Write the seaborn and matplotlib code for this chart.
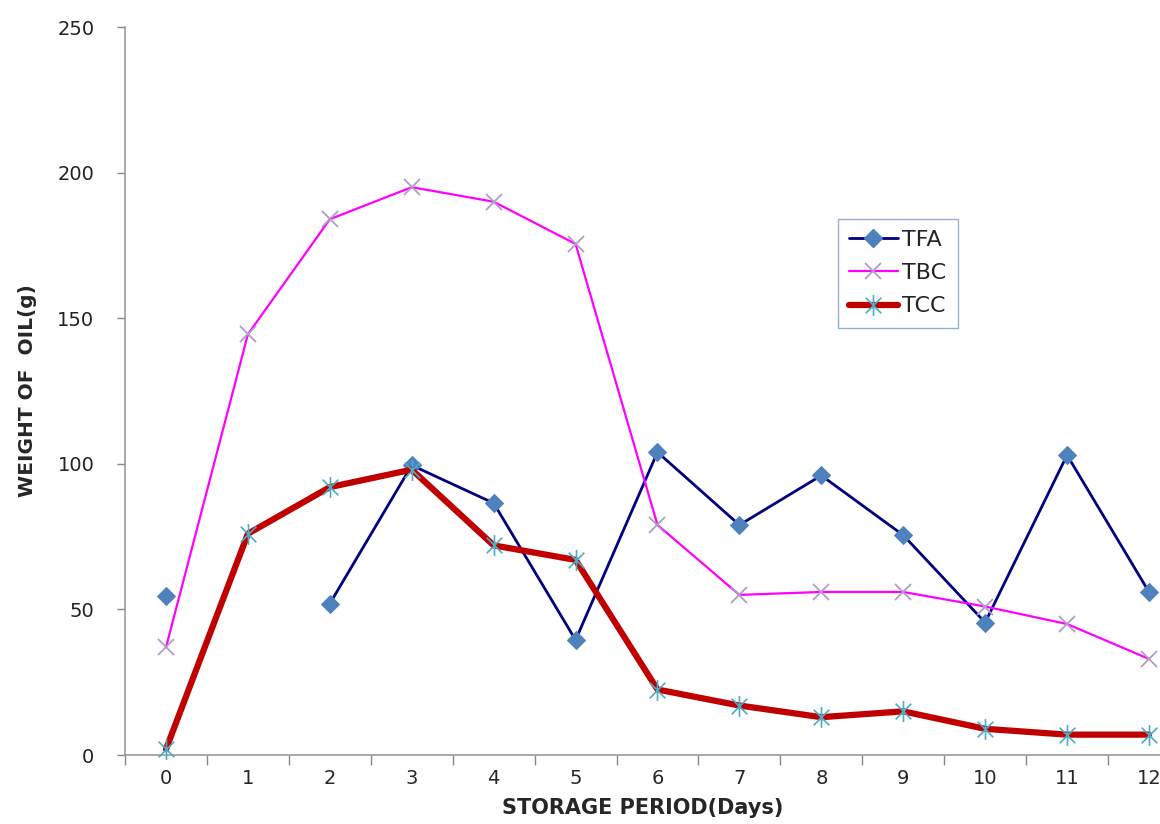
import numpy as np
import pandas as pd
import matplotlib
matplotlib.use("Agg")
import matplotlib.pyplot as plt
import seaborn as sns
from matplotlib.path import Path
from matplotlib.lines import Line2D

# DATA
days = [0, 1, 2, 3, 4, 5, 6, 7, 8, 9, 10, 11, 12]
tfa = [54.5, np.nan, 52, 99.5, 86.5, 39.5, 104, 79, 96, 75.5, 45.5, 103, 56]
tbc = [37, 144.5, 184, 195, 190, 175.5, 79, 55, 56, 56, 51, 45, 33]
tcc = [2, 76, 92, 98, 72, 67, 22.5, 17, 13, 15, 9, 7, 7]
y_ticks = [0, 50, 100, 150, 200, 250]

NARROW = ["DejaVu Sans Condensed", "Liberation Sans Narrow", "DejaVu Sans"]

# excel-like star: vertical bar plus an x
star = Path(
    [(0, -1), (0, 1), (-0.75, -0.75), (0.75, 0.75), (-0.75, 0.75), (0.75, -0.75)],
    [Path.MOVETO, Path.LINETO, Path.MOVETO, Path.LINETO, Path.MOVETO, Path.LINETO],
)

sns.set_style("white")
plt.rcParams["font.family"] = ["DejaVu Sans"]

fig = plt.figure(figsize=(11.6, 8.24), dpi=100)
ax = fig.add_axes([0.1078, 0.0837, 0.918, 0.8835])

# TFA has a missing value at day 1 -> split it into segments so the line breaks
df_tfa = pd.DataFrame({"day": days, "val": tfa})
df_tfa["seg"] = df_tfa["val"].isna().cumsum()
df_tfa = df_tfa.dropna()

sns.lineplot(data=df_tfa, x="day", y="val", units="seg", estimator=None,
             color="#000080", lw=2, marker="D", ms=9, mfc="#4F81BD",
             mec="#4F81BD", ax=ax, zorder=3, clip_on=False)
sns.lineplot(x=days, y=tbc, color="#FF00FF", lw=1.6, marker="x", ms=11,
             mec="#B09CC8", mew=1.3, ax=ax, zorder=4, clip_on=False)
sns.lineplot(x=days, y=tcc, color="#C00000", lw=4.5, marker=star, ms=15,
             mec="#4BACC6", mew=1.2, ax=ax, zorder=5, clip_on=False)

ax.set_xlim(-0.5, 12.5)
ax.set_ylim(0, 250)
ax.set_yticks(y_ticks)
ax.set_yticklabels([str(v) for v in y_ticks], fontsize=14, color="#222222")
ax.set_xticks(days)
ax.set_xticklabels([str(d) for d in days], fontsize=14, family=NARROW)
ax.set_xticks(np.arange(-0.5, 13, 1), minor=True)
ax.tick_params(axis="x", which="major", length=0, pad=10)
ax.tick_params(axis="x", which="minor", length=7, width=1, color="#888888",
               direction="out", bottom=True)
ax.tick_params(axis="y", length=6, width=1, color="#888888", direction="out",
               left=True, pad=16)

for s in ["top", "right"]:
    ax.spines[s].set_visible(False)
for s in ["left", "bottom"]:
    ax.spines[s].set_color("#999999")
    ax.spines[s].set_linewidth(1.2)

ax.set_xlabel("STORAGE PERIOD(Days)", fontsize=15, fontweight="bold", family=NARROW)
ax.xaxis.set_label_coords(0.486, -0.059)
ax.set_ylabel("WEIGHT OF  OIL(g)", fontsize=14.5, fontweight="bold", family=NARROW)
ax.yaxis.set_label_coords(-0.083, 0.5)

handles = [
    Line2D([], [], color="#000080", lw=2, marker="D", ms=9, mfc="#4F81BD", mec="#4F81BD"),
    Line2D([], [], color="#FF00FF", lw=1.6, marker="x", ms=11, mec="#B09CC8", mew=1.3),
    Line2D([], [], color="#C00000", lw=4.5, marker=star, ms=15, mec="#4BACC6", mew=1.2),
]
leg = ax.legend(handles, ["TFA", "TBC", "TCC"], loc="upper left",
                bbox_to_anchor=(0.659, 0.752), frameon=True, fancybox=False,
                handlelength=2.2, handletextpad=0.2, labelspacing=0.6,
                borderpad=0.5, prop={"family": NARROW, "size": 16})
leg.get_frame().set_edgecolor("#7A9CC8")
leg.get_frame().set_linewidth(1.0)

fig.savefig("out.png", dpi=100)
